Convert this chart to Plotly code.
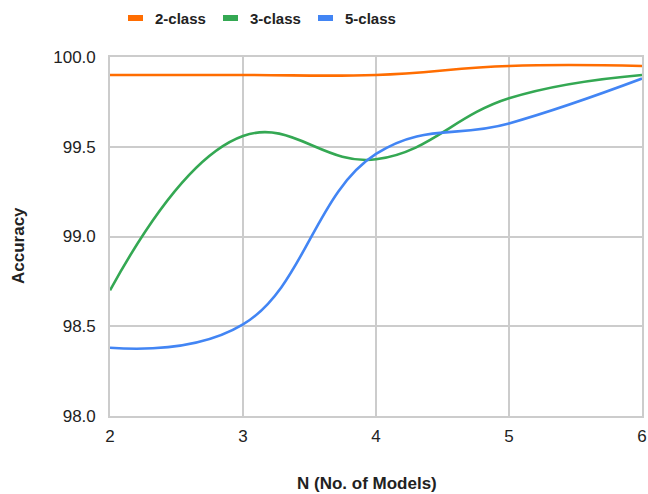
import plotly.graph_objects as go

# Ensemble size vs. accuracy for each classification setting
n_models = [2, 3, 4, 5, 6]
acc_2class = [99.90, 99.90, 99.90, 99.95, 99.95]
acc_3class = [98.70, 99.56, 99.43, 99.77, 99.90]
acc_5class = [98.38, 98.51, 99.46, 99.63, 99.88]

series_names = ["2-class", "3-class", "5-class"]
series_colors = ["#ff6d01", "#34a853", "#4285f4"]
series_values = [acc_2class, acc_3class, acc_5class]

y_ticks = [98.0, 98.5, 99.0, 99.5, 100.0]
x_ticks = [2, 3, 4, 5, 6]

FONT = "Liberation Sans, Arial, sans-serif"
W, H = 648, 494
ML, MR, MT, MB = 110, 6, 57, 78

fig = go.Figure()
for name, color, vals in zip(series_names, series_colors, series_values):
    fig.add_trace(go.Scatter(
        x=n_models, y=vals, name=name, mode="lines",
        line=dict(color=color, width=2.6, shape="spline", smoothing=1.2),
        showlegend=False,
    ))

grid = "#cccccc"
fig.update_layout(
    width=W, height=H,
    margin=dict(l=ML, r=MR, t=MT, b=MB, autoexpand=False),
    paper_bgcolor="white", plot_bgcolor="white",
    font=dict(family=FONT, size=17, color="#222222"),
    xaxis=dict(range=[2, 6], tickvals=x_ticks, showgrid=True, gridcolor=grid,
               gridwidth=1.6, showline=True, linecolor=grid, linewidth=1.6, mirror=True,
               zeroline=False, ticks="", ticklabelstandoff=4, automargin=False,
               tickfont=dict(size=17, color="#222222")),
    yaxis=dict(range=[98, 100], tickvals=y_ticks, tickformat=".1f", showgrid=True,
               gridcolor=grid, gridwidth=1.6, showline=True, linecolor=grid, linewidth=1.6,
               mirror=True, zeroline=False, ticks="", ticklabelstandoff=9, automargin=False,
               tickfont=dict(size=17, color="#222222")),
)

# Axis titles
pw = W - ML - MR
ph = H - MT - MB
fig.add_annotation(text="<b>N (No. of Models)</b>", xref="paper", yref="paper",
                   x=(366.5 - ML) / pw, y=-(483 - (MT + ph)) / ph,
                   showarrow=False, font=dict(size=17, color="#222222"),
                   xanchor="center", yanchor="middle")
fig.add_annotation(text="<b>Accuracy</b>", xref="paper", yref="paper",
                   x=(18 - ML) / pw, y=(MT + ph - 246) / ph, textangle=-90,
                   showarrow=False, font=dict(size=17, color="#222222"),
                   xanchor="center", yanchor="middle")

# Legend row along the top
legend_x = [128, 223, 318]
leg_y = 18
for name, color, lx in zip(series_names, series_colors, legend_x):
    x0 = (lx - ML) / pw
    x1 = (lx + 15 - ML) / pw
    y0 = (MT + ph - (leg_y + 3)) / ph
    y1 = (MT + ph - (leg_y - 3)) / ph
    fig.add_shape(type="rect", xref="paper", yref="paper", x0=x0, x1=x1, y0=y0, y1=y1,
                  fillcolor=color, line=dict(width=0))
    fig.add_annotation(text=f"<b>{name}</b>", xref="paper", yref="paper",
                       x=(lx + 25 - ML) / pw, y=(MT + ph - leg_y) / ph,
                       showarrow=False, xanchor="left", yanchor="middle",
                       font=dict(size=15, color="#222222"))

fig.write_html("out.html")
